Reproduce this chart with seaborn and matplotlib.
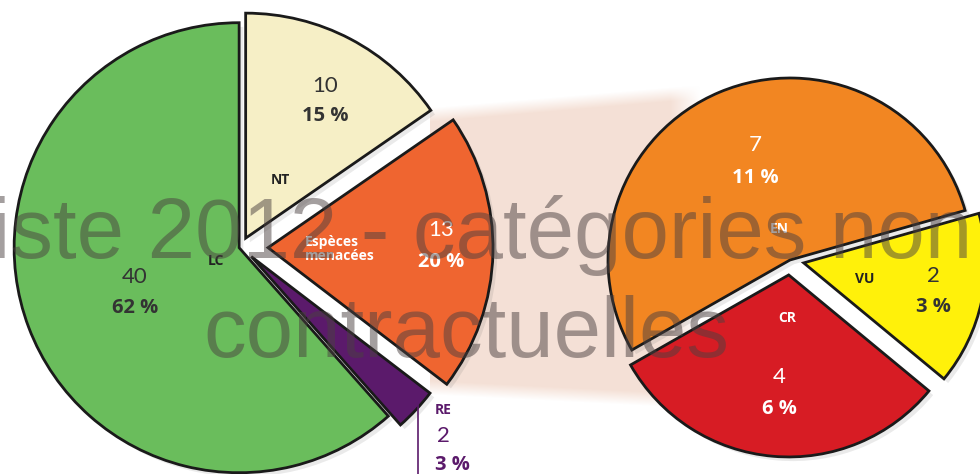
import numpy as np
import matplotlib
matplotlib.use("Agg")
import matplotlib.pyplot as plt
import matplotlib.patheffects as pe
import seaborn as sns

# donnees
main_labels = ["LC", "RE", "Espèces\nmenacées", "NT"]
main_counts = [40, 2, 13, 10]
threat_labels = ["EN", "CR", "VU"]
threat_counts = [7, 4, 2]
total = sum(main_counts)

main_colors = ["#6abd5c", "#5b1a6b", "#ef6530", "#f6efc6"]
threat_colors = ["#f28622", "#d71c24", "#fff10a"]

sns.set_theme(style="white")
plt.rcParams["font.family"] = ["Open Sans", "DejaVu Sans"]

W, H = 980, 474
fig = plt.figure(figsize=(9.8, 4.74), dpi=100)
ax = fig.add_axes([0, 0, 1, 1])

def Y(y):
    return H - y

# bande de liaison (bords flous)
gx = np.arange(430, 720)
gy = np.arange(60, 430)
XX, YY = np.meshgrid(gx, gy)
ytop = 113 + (93 - 113) * (XX - 445) / 235.0
ybot = 388 + (400 - 388) * (XX - 445) / 235.0
d = np.minimum(YY - ytop, ybot - YY)
alpha = np.clip(0.5 + d / 14.0, 0, 1) * np.clip((700 - XX) / 30.0, 0, 1) * 0.95
img = np.zeros(XX.shape + (4,))
img[..., :3] = matplotlib.colors.to_rgb("#f4dfd4")
img[..., 3] = alpha
ax.imshow(img, extent=(430, 720, Y(430), Y(60)), origin="upper", zorder=0,
          interpolation="bilinear")

wp = dict(edgecolor="#1a1a1a", linewidth=2.0, joinstyle="miter")
w1, _ = ax.pie(main_counts, colors=main_colors, startangle=90, counterclock=True,
               explode=[2, 14, 27, 10], radius=225, center=(241, Y(247)),
               wedgeprops=wp)
w2, _ = ax.pie(threat_counts, colors=threat_colors, startangle=15.8, counterclock=True,
               explode=[0, 15, 14], radius=182, center=(790, Y(260)),
               wedgeprops=wp)
for w in list(w1) + list(w2):
    w.set_path_effects([pe.SimplePatchShadow(offset=(3, -3), alpha=0.12, shadow_rgbFace="#555555"),
                        pe.Normal()])

ax.set_xlim(0, W)
ax.set_ylim(0, H)
ax.set_aspect("auto")
ax.axis("off")

pct = {l: f"{round(c / total * 100)} %" for l, c in zip(main_labels + threat_labels,
                                                        main_counts + threat_counts)}
cnt = dict(zip(main_labels + threat_labels, main_counts + threat_counts))

def block(lab, xl, yl, xn, yn, yp, cl, cn, ha_l="center"):
    ax.text(xl, Y(yl), lab, ha=ha_l, va="center", fontsize=10, fontweight="bold",
            color=cl, linespacing=0.95, zorder=5)
    ax.text(xn, Y(yn), str(cnt[lab]), ha="center", va="center", fontsize=16,
            fontweight="normal", family=["Lato", "DejaVu Sans"], color=cn, zorder=5)
    ax.text(xn, Y(yp), pct[lab], ha="center", va="center", fontsize=14.5,
            fontweight="bold", color=cn, zorder=5)

block("LC", 216, 261, 135, 277, 308, "#222222", "#333333")
block("NT", 280, 180, 325, 86, 116, "#222222", "#333333")
block("Espèces\nmenacées", 305, 249, 441, 230, 262, "white", "white", ha_l="left")
block("EN", 779, 229, 755, 145, 178, "white", "white")
block("CR", 787, 318, 779, 377, 409, "white", "white")
block("VU", 865, 279, 933, 276, 307, "#222222", "#333333")

# RE a l'exterieur
ax.plot([418, 418], [Y(395), Y(474)], color="#5b1a6b", lw=1.2, zorder=5)
ax.text(435, Y(410), "RE", ha="left", va="center", fontsize=10, fontweight="bold",
        color="#5b1a6b", zorder=5)
ax.text(437, Y(436), str(cnt["RE"]), ha="left", va="center", fontsize=16,
        family=["Lato", "DejaVu Sans"], color="#5b1a6b", zorder=5)
ax.text(435, Y(465), pct["RE"], ha="left", va="center", fontsize=14.5,
        fontweight="bold", color="#5b1a6b", zorder=5)

# filigrane
wm = dict(ha="center", va="baseline", fontsize=61.4, color="#4a4040", alpha=0.5,
          family="Liberation Sans", zorder=10)
ax.text(458, Y(258), "Liste 2012 - catégories non", **wm)
ax.text(466, Y(357), "contractuelles", **wm)

fig.savefig("out.png", dpi=100)
